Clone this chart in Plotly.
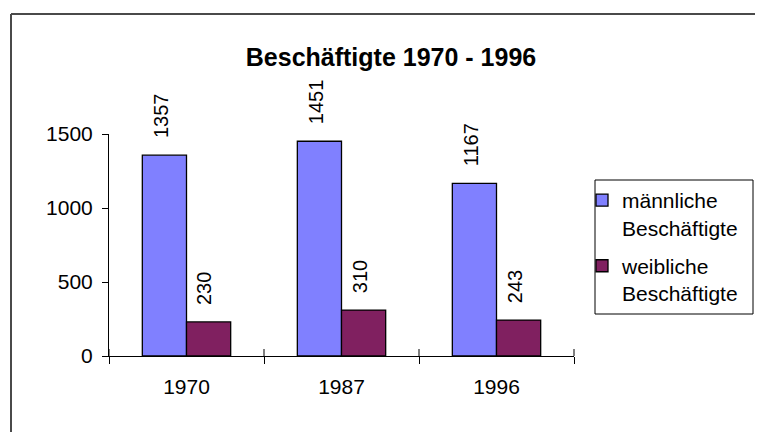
import plotly.graph_objects as go

years = ["1970", "1987", "1996"]
maennlich = [1357, 1451, 1167]
weiblich = [230, 310, 243]
series_names = ["männliche<br>Beschäftigte", "weibliche<br>Beschäftigte"]
title_text = "<b>Beschäftigte 1970 - 1996</b>"
y_ticks = [0, 500, 1000, 1500]

FONT = "Liberation Sans, Arial, sans-serif"
BLUE = "#8080FF"
MAROON = "#802060"

OFF = 8  # page body margin in the browser
W, H = 763 - OFF, 432 - OFF
PL, PR, PT, PB = 109, 574, 134, 356  # plot area in page pixels
L, T = PL - OFF, PT - OFF
R, B = W - (PR - OFF), H - (PB - OFF)
plot_w = PR - PL
plot_h = PB - PT


def px(x):
    return (x - PL) / plot_w


def py(y):
    return (PB - y) / plot_h


fig = go.Figure()
fig.add_trace(go.Bar(x=years, y=maennlich, name=series_names[0], legendgroup="m",
                     marker=dict(color=BLUE, line=dict(color="black", width=1.3))))
fig.add_trace(go.Bar(x=years, y=weiblich, name=series_names[1], legendgroup="w",
                     marker=dict(color=MAROON, line=dict(color="black", width=1.3))))

bargap = 0.43
bar_px = plot_w / len(years) * (1 - bargap) / 2
for vals, sign in ((maennlich, -1), (weiblich, 1)):
    for i, v in enumerate(vals):
        fig.add_annotation(x=i, y=v, xref="x", yref="y", text=str(v), textangle=-90,
                           showarrow=False, xshift=sign * bar_px / 2 - 4, yshift=15,
                           yanchor="bottom",
                           font=dict(family=FONT, size=20, color="black"))

# inner half of the category boundary ticks (crossing the axis)
for i in range(len(years) + 1):
    xp = i / len(years)
    fig.add_shape(type="line", xref="paper", yref="paper", x0=xp, x1=xp,
                  y0=0, y1=7 / plot_h, line=dict(color="black", width=1))

# outer chart frame (top and left edges visible)
fig.add_shape(type="line", xref="paper", yref="paper",
              x0=px(11), x1=px(800), y0=py(14), y1=py(14),
              line=dict(color="#4a4a4a", width=2), layer="below")
fig.add_shape(type="line", xref="paper", yref="paper",
              x0=px(11), x1=px(11), y0=py(14), y1=py(470),
              line=dict(color="#4a4a4a", width=2), layer="below")

# legend frame
fig.add_shape(type="rect", xref="paper", yref="paper",
              x0=px(595), x1=px(753), y0=py(314), y1=py(180),
              line=dict(color="black", width=1), layer="above")

fig.update_layout(
    width=W, height=H,
    margin=dict(l=L, r=R, t=T, b=B, autoexpand=False),
    paper_bgcolor="white", plot_bgcolor="white",
    barmode="group", bargap=bargap, bargroupgap=0,
    title=dict(text=title_text, x=(391 - OFF) / W, xanchor="center",
               y=1 - (57 - OFF) / H, yanchor="middle", yref="container",
               font=dict(family=FONT, size=25, color="black")),
    font=dict(family=FONT, size=20, color="black"),
    showlegend=True,
    legend=dict(x=px(582), xanchor="left", y=py(180), yanchor="top",
                borderwidth=0, bgcolor="rgba(0,0,0,0)",
                font=dict(family=FONT, size=21, color="black"),
                valign="top", tracegroupgap=8, itemwidth=30),
    xaxis=dict(type="category", range=[-0.5, len(years) - 0.5], showline=True,
               linecolor="black", linewidth=1,
               ticks="outside", ticklen=7, tickcolor="black", tickson="boundaries",
               showgrid=False, tickfont=dict(family=FONT, size=21), tickangle=0,
               ticklabelstandoff=12, fixedrange=True),
    yaxis=dict(range=[0, 1500], tickvals=y_ticks, showline=True, linecolor="black",
               linewidth=1, ticks="outside", ticklen=6, tickcolor="black",
               showgrid=False, zeroline=False, tickfont=dict(family=FONT, size=21),
               ticklabelstandoff=5, fixedrange=True),
)

fig.write_html("out.html")
